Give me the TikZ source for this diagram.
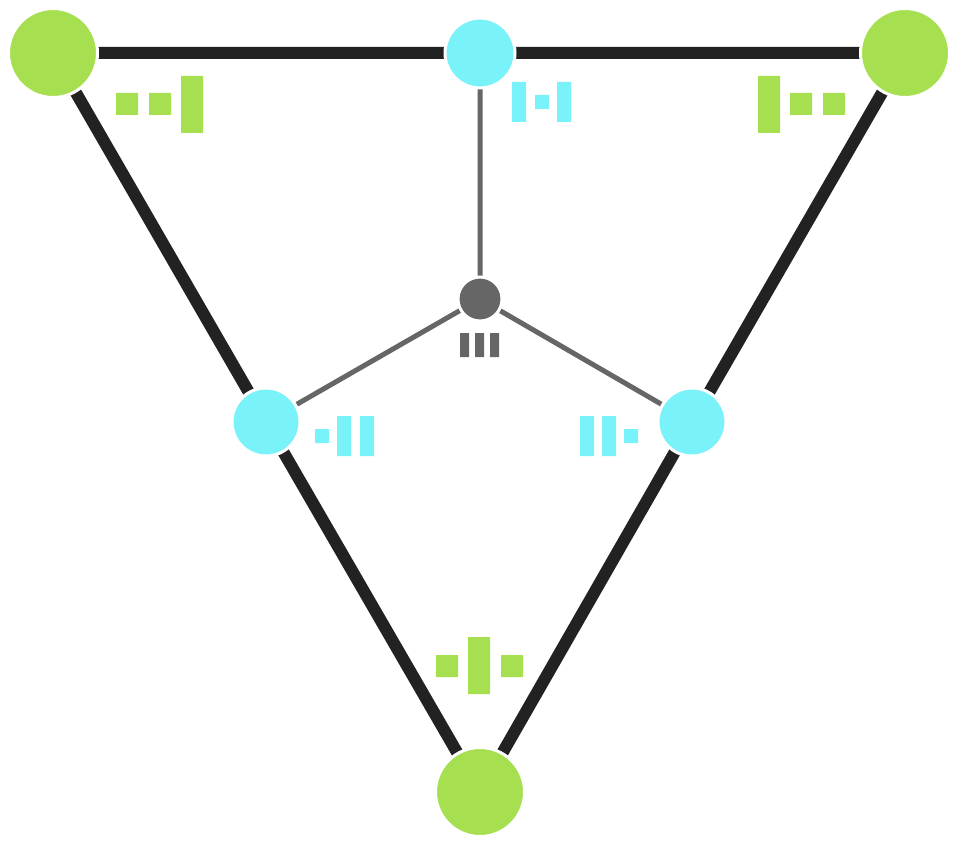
\documentclass[tikz,border=0pt]{standalone}
\definecolor{gr}{RGB}{166,224,80}
\definecolor{cy}{RGB}{122,242,250}
\definecolor{gy}{RGB}{102,102,102}
\definecolor{bk}{RGB}{34,34,34}
\begin{document}
\begin{tikzpicture}[x=1pt,y=-1pt,
  big/.style={circle,fill=gr,draw=white,line width=3pt,minimum size=89pt,inner sep=0},
  mid/.style={circle,fill=cy,draw=white,line width=3pt,minimum size=68pt,inner sep=0},
  sml/.style={circle,fill=gy,draw=white,line width=3pt,minimum size=44pt,inner sep=0},
  thick edge/.style={bk,line width=12pt},
  thin edge/.style={gy,line width=5pt}]
\useasboundingbox (0,0) rectangle (960,845);
\coordinate (A) at (53,53); \coordinate (B) at (905,53); \coordinate (C) at (480,792);
\coordinate (D) at (480,53); \coordinate (E) at (266,422); \coordinate (F) at (692,422);
\coordinate (G) at (480,299);
\draw[thick edge] (A)--(D)--(B)--(F)--(C)--(E)--(A);
\draw[thin edge] (D)--(G) (E)--(G) (F)--(G);
\node[big] (a) at (A) {}; \node[big] (b) at (B) {}; \node[big] (c) at (C) {};
\node[mid,minimum size=70pt] (d) at (D) {}; \node[mid] (e) at (E) {}; \node[mid] (f) at (F) {};
\node[sml] (g) at (G) {};
% labels
\fill[gr] (116,93) rectangle (138,115) (149,93) rectangle (171,115) (181,76) rectangle (203,133);
\fill[gr] (758,76) rectangle (780,133) (790,93) rectangle (812,115) (823,93) rectangle (845,115);
\fill[gr] (436,655) rectangle (458,677) (468,637) rectangle (490,694) (501,655) rectangle (523,677);
\fill[cy] (512,82) rectangle (526,122) (535,95) rectangle (549,109) (557,82) rectangle (571,122);
\fill[cy] (315,429) rectangle (329,443) (337,416) rectangle (351,456) (360,416) rectangle (374,456);
\fill[cy] (580,416) rectangle (594,456) (602,416) rectangle (616,456) (624,429) rectangle (638,443);
\fill[gy] (460,333) rectangle (469,357) (475,333) rectangle (484,357) (490,333) rectangle (499,357);
\end{tikzpicture}
\end{document}
